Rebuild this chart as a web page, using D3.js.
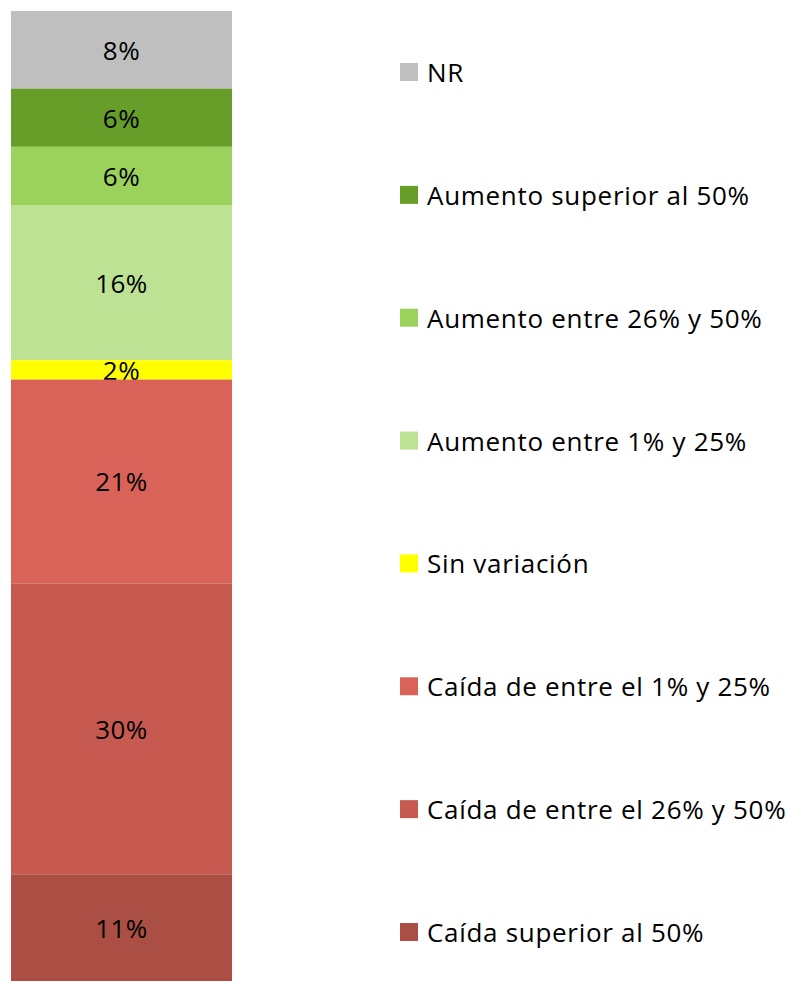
<!DOCTYPE html>
<html lang="es">
<head>
    <meta charset="UTF-8"/>
    <title>Variación</title>
    <script src="https://d3js.org/d3.v7.min.js"></script>
    <style>
        html, body { margin: 0; padding: 0; background: #fff; }
        text { font-family: "Open Sans", sans-serif; fill: #000; }
    </style>
</head>
<body>
    <div id="chart"></div>
    <script>
        // categories from top of the bar to bottom
        var categories = [
            "NR",
            "Aumento superior al 50%",
            "Aumento entre 26% y 50%",
            "Aumento entre 1% y 25%",
            "Sin variación",
            "Caída de entre el 1% y 25%",
            "Caída de entre el 26% y 50%",
            "Caída superior al 50%"
        ];
        var values = [8, 6, 6, 16, 2, 21, 30, 11];
        var colors = ["#bfbfbf", "#679d29", "#9bd25c", "#bde294", "#ffff00", "#da6359", "#c65a50", "#ab4f44"];

        var w = 800, h = 982;

        var svg = d3.select("#chart")
                    .append("svg")
                    .attr("width", w)
                    .attr("height", h);

        // cumulative starts
        var starts = [];
        var acc = 0;
        values.forEach(function(v) { starts.push(acc); acc += v; });

        var y = d3.scaleLinear()
                  .domain([0, d3.sum(values)])
                  .range([11, 981]);

        var x0 = 11, barW = 221;

        var seg = svg.selectAll("g.seg")
            .data(values)
            .enter()
            .append("g")
            .attr("class", "seg");

        seg.append("rect")
            .attr("x", x0)
            .attr("y", function(d, i) { return y(starts[i]); })
            .attr("width", barW)
            .attr("height", function(d, i) { return y(starts[i] + d) - y(starts[i]); })
            .attr("fill", function(d, i) { return colors[i]; });

        seg.append("text")
            .attr("x", x0 + barW / 2)
            .attr("y", function(d, i) { return y(starts[i] + d / 2); })
            .attr("text-anchor", "middle")
            .attr("dominant-baseline", "central")
            .style("font-size", "26px")
            .style("letter-spacing", "0.5px")
            .text(function(d) { return d + "%"; });

        // legend
        var ly = d3.scalePoint()
                   .domain(categories)
                   .range([72, 932]);

        var leg = svg.selectAll("g.leg")
            .data(categories)
            .enter()
            .append("g")
            .attr("class", "leg")
            .attr("transform", function(d) { return "translate(400," + ly(d) + ")"; });

        leg.append("rect")
            .attr("x", 0)
            .attr("y", -9)
            .attr("width", 18)
            .attr("height", 18)
            .attr("fill", function(d, i) { return colors[i]; });

        leg.append("text")
            .attr("x", 27)
            .attr("y", 0)
            .attr("dominant-baseline", "central")
            .style("font-size", "26px")
            .style("letter-spacing", "0.7px")
            .text(function(d) { return d; });
    </script>
</body>
</html>
